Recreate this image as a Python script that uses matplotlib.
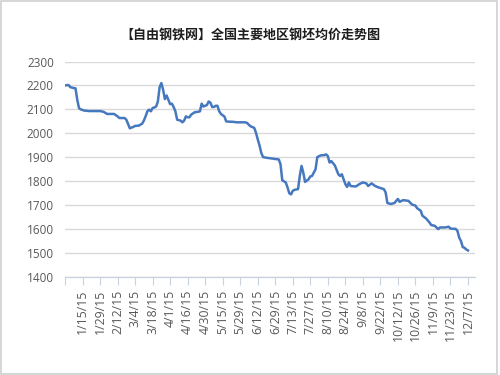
import matplotlib
matplotlib.use("Agg")
import matplotlib.pyplot as plt
from matplotlib.patches import Rectangle

# ---- data (trading-day index -> average billet price, yuan/ton) ----
day_idx = [0, 2, 3, 5, 6, 7, 8, 9, 11, 14, 20, 22, 24, 28, 30, 31, 34, 35, 37, 39,
           40, 42, 44, 45, 46, 47, 48, 49, 50, 51, 52, 53, 54, 55, 56, 57, 58, 59, 60, 61,
           62, 63, 64, 66, 67, 68, 69, 70, 71, 72, 74, 76, 77, 78, 79, 80, 81, 82, 83, 84,
           85, 86, 87, 88, 89, 91, 92, 93, 96, 98, 103, 104, 105, 106, 108, 109, 110, 111, 112, 113,
           115, 119, 122, 123, 124, 126, 127, 128, 129, 130, 131, 133, 134, 135, 136, 137, 139, 140, 141, 143,
           144, 146, 148, 149, 150, 151, 152, 154, 156, 157, 158, 160, 161, 162, 163, 166, 168, 170, 172, 173,
           175, 177, 179, 182, 183, 184, 186, 188, 190, 191, 193, 196, 198, 200, 201, 203, 204, 206, 208, 209,
           211, 213, 214, 217, 219, 220, 223, 224, 225, 226, 227, 228, 229, 230]
price = [2200, 2202, 2193, 2189, 2188, 2140, 2105, 2100, 2095, 2093, 2093, 2090, 2081, 2081, 2071, 2064, 2064, 2057, 2021, 2027,
         2031, 2032, 2040, 2053, 2071, 2092, 2099, 2092, 2106, 2108, 2112, 2133, 2193, 2210, 2182, 2143, 2158, 2140, 2122, 2124,
         2110, 2092, 2057, 2053, 2046, 2053, 2071, 2067, 2067, 2078, 2088, 2090, 2092, 2124, 2112, 2115, 2118, 2133, 2128, 2110,
         2110, 2115, 2115, 2092, 2081, 2070, 2050, 2049, 2048, 2046, 2046, 2043, 2035, 2029, 2023, 2002, 1975, 1950, 1919, 1901,
         1898, 1894, 1891, 1871, 1804, 1795, 1774, 1750, 1745, 1760, 1764, 1767, 1822, 1864, 1836, 1797, 1808, 1820, 1822, 1850,
         1901, 1908, 1909, 1912, 1905, 1878, 1884, 1866, 1829, 1822, 1829, 1788, 1776, 1795, 1780, 1778, 1788, 1795, 1791, 1780,
         1791, 1780, 1774, 1767, 1753, 1709, 1705, 1709, 1726, 1714, 1721, 1718, 1703, 1698, 1687, 1677, 1656, 1645, 1628, 1617,
         1614, 1600, 1607, 1607, 1610, 1602, 1601, 1592, 1564, 1550, 1525, 1522, 1515, 1511]

tick_labels = ["1/15/15", "1/29/15", "2/12/15", "3/4/15", "3/18/15", "4/1/15", "4/16/15",
               "4/30/15", "5/15/15", "5/29/15", "6/12/15", "6/29/15", "7/13/15", "7/27/15",
               "8/10/15", "8/24/15", "9/8/15", "9/22/15", "10/12/15", "10/26/15", "11/9/15",
               "11/23/15", "12/7/15"]
y_ticks = [1400, 1500, 1600, 1700, 1800, 1900, 2000, 2100, 2200, 2300]
title = "【自由钢铁网】全国主要地区钢坯均价走势图"

plt.rcParams['font.family'] = ['Open Sans', 'DejaVu Sans']

fig = plt.figure(figsize=(5, 3.75), dpi=100)
fig.patch.set_facecolor('white')
fig.patches.append(Rectangle((0.002, 0.002), 0.992, 0.995, transform=fig.transFigure,
                             fill=False, edgecolor='#d0d0d0', linewidth=1.2))

ax = fig.add_axes([0.13, 0.2613, 0.82, 0.5747])
ax.plot(day_idx, price, color='#4678bf', linewidth=1.8, solid_joinstyle='round', zorder=3)

ax.set_xlim(0, 234)
ax.set_ylim(1400, 2300)
ax.set_yticks(y_ticks)
ax.set_yticklabels([str(v) for v in y_ticks])
ax.tick_params(axis='y', length=0, pad=8, labelsize=8.5, labelcolor='#595959')
ax.yaxis.grid(True, color='#d9d9d9', linewidth=1.0)
ax.set_axisbelow(True)

xt = list(range(0, 240, 10))
ax.set_xticks(xt)
ax.set_xticklabels([""] + tick_labels, rotation=90)
ax.tick_params(axis='x', length=6, width=0.8, color='#c9d2de', direction='out', pad=3,
               labelsize=8.8, labelcolor='#595959')
for lab in ax.get_xticklabels():
    lab.set_verticalalignment('top')

for s in ['top', 'right', 'left']:
    ax.spines[s].set_visible(False)
ax.spines['bottom'].set_color('#c9d2de')
ax.spines['bottom'].set_linewidth(0.9)

fig.text(0.5, 0.905, title, ha='center', va='center', fontsize=9.4, fontweight='bold',
         color='#1e1e1e', family=['Noto Sans CJK SC', 'DejaVu Sans'])

fig.savefig('out.png', dpi=100)
